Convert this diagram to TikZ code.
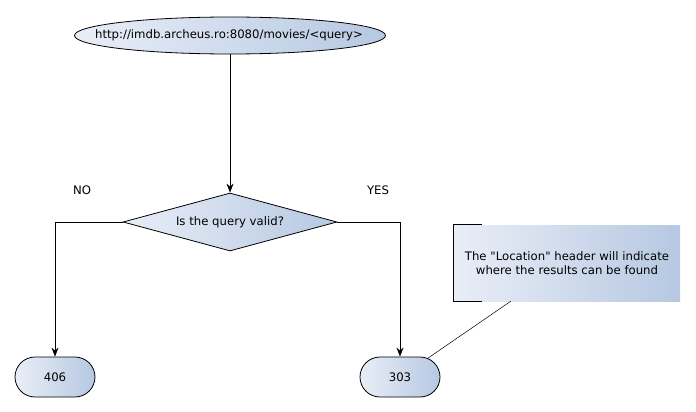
\documentclass[tikz,border=0pt]{standalone}
\usepackage{fontspec}
\setmainfont{DejaVu Sans}[Ligatures=TeXOff]
\usetikzlibrary{shapes.geometric,shapes.misc,arrows.meta}
\definecolor{gl}{HTML}{E9EEF7}
\definecolor{gr}{HTML}{B6C8E2}
\tikzset{
  grad/.style={left color=gl, right color=gr, shading angle=90},
  txt/.style={font=\fontsize{11.7}{14}\selectfont},
  flow/.style={draw=black, line width=0.8pt, -{Stealth[length=9pt,width=7pt,inset=3pt]}},
  term/.style={grad, draw=black, line width=0.8pt, rounded rectangle, minimum width=80pt, minimum height=40pt, inner xsep=0pt, text width=40pt, align=center, txt},
}
\begin{document}
\begin{tikzpicture}[x=1pt,y=-1pt]
\useasboundingbox (0,0) rectangle (696,412);
\node[ellipse, grad, draw=black, line width=0.8pt, minimum width=311pt, minimum height=37pt, inner sep=0pt, txt] (url) at (230,35.5) {};
\node[txt] (urltxt) at (229,35.5) {http://imdb.archeus.ro:8080/movies/<query>};
\node[diamond, grad, draw=black, line width=0.8pt, minimum width=214pt, minimum height=58pt, inner sep=0pt, aspect=3.7, txt] (q) at (230,222) {};
\node[txt] (qtxt) at (230,222) {Is the query valid?};
\node[term] (n406) at (55,377) {406};
\node[term] (n303) at (400,377) {303};
\node[txt] (no) at (82,190) {NO};
\node[txt] (yes) at (378,190) {YES};
\node[grad, minimum width=226pt, minimum height=76pt, inner sep=0pt] (note) at (567,263) {};
\node[txt, align=center] (notetxt) at (567,263) {The "Location" header will indicate\\ where the results can be found};
\draw[line width=0.8pt] ([xshift=28pt]note.north west) -- (note.north west) -- (note.south west) -- ([xshift=28pt]note.south west);
\draw[flow] (url) -- (q);
\draw[flow] (q.west) -| (n406.north);
\draw[flow] (q.east) -| (n303.north);
\coordinate (na) at ([xshift=57pt]note.south west);
\draw[line width=0.5pt] (na) -- (n303.34);
\end{tikzpicture}
\end{document}
